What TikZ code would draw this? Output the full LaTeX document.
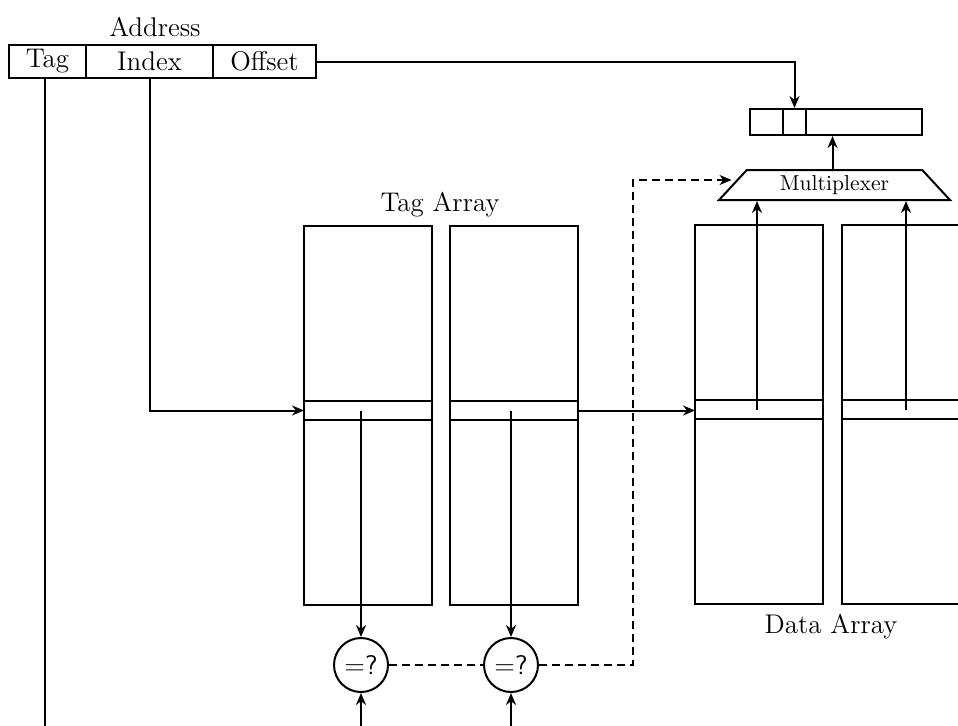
\documentclass[tikz,border=0pt]{standalone}
\usepackage{tikz}
\usetikzlibrary{shapes.geometric, arrows.meta, positioning, calc}

\tikzset{
  field/.style={draw, minimum height=16.5pt, inner sep=0pt, outer sep=0pt,
    font=\fontsize{13.5}{15}\selectfont},
  bank/.style={draw, minimum width=64pt, minimum height=189.5pt, inner sep=0pt},
  slot/.style={draw, minimum width=64pt, minimum height=9.5pt, inner sep=0pt, outer sep=0pt},
  cmp/.style={draw, circle, minimum size=27pt, inner sep=0pt,
    font=\sffamily\fontsize{13.5}{15}\selectfont},
  lbl/.style={font=\fontsize{13.5}{15}\selectfont},
  arr/.style={-{Stealth[length=6pt, width=5pt]}},
  dsh/.style={dash pattern=on 4pt off 2.5pt},
}

\begin{document}
\begin{tikzpicture}[x=0.5pt, y=-0.5pt, line width=1pt]
\useasboundingbox (0,0) rectangle (958,725);
\clip (0,0) rectangle (958,725);

% address split into fields
\node[field, minimum width=38.5pt] (tagf) at (47.5,61.5) {Tag};
\node[field, minimum width=63.5pt, right=0pt of tagf] (indexf) {Index};
\node[field, minimum width=51.5pt, right=0pt of indexf] (offsetf) {Offset};
\node[lbl] at (155,27) {Address};
\coordinate (bottom) at (0,760);

% tag array
\node[lbl] at (440,205) {Tag Array};
\node[bank] (t1) at (368,415.5) {};
\node[bank] (t2) at (514,415.5) {};
\node[slot] (s1) at (368,410.5) {};
\node[slot] (s2) at (514,410.5) {};

% data array
\node[bank] (b1) at (759,414) {};
\node[bank] (b2) at (906,414) {};
\node[slot] (d1) at (759,409.5) {};
\node[slot] (d2) at (906,409.5) {};
\node[lbl] at (831,627) {Data Array};

% comparators
\node[cmp] (c1) at (361,665) {=?};
\node[cmp] (c2) at (511,665) {=?};

% multiplexer and output word
\node[draw, trapezium, trapezium angle=48, trapezium stretches=true,
  minimum width=115.5pt, minimum height=15pt, inner sep=0pt,
  font=\fontsize{10.8}{12}\selectfont] (mux) at (834.5,185) {Multiplexer};
\node[draw, minimum width=86pt, minimum height=13pt, inner sep=0pt] (reg) at (836,122) {};
\node[draw, minimum width=11.5pt, minimum height=13pt, inner sep=0pt] (regsel) at (794.5,122) {};

% connections
\draw ([xshift=-1.5pt]tagf.south) -- ([xshift=-1.5pt]tagf.south |- bottom);
\draw[arr] (indexf.south) |- (s1.west);
\draw[arr] (offsetf.east) -| (regsel.north);
\draw[arr] (c1 |- s1.center) -- (c1.north);
\draw[arr] (c2 |- s2.center) -- (c2.north);
\draw[arr] (c1.south |- bottom) -- (c1.south);
\draw[arr] (c2.south |- bottom) -- (c2.south);
\draw[arr] (s2.east) -- (s2.east -| d1.west);
\draw[arr] ([xshift=-1pt]d1.center) -- ([xshift=-1pt]d1.center |- mux.south);
\draw[arr] (d2.center) -- (d2.center |- mux.south);
\draw[arr] ([xshift=-1pt]mux.north) -- ([xshift=-1pt]mux.north |- reg.south);

% hit signals
\coordinate (bend) at (633,180);
\draw[dsh] (c1.east) -- (c2.west);
\draw[dsh, arr] (c2.east) -| (bend) -- (bend -| mux.west);
\end{tikzpicture}
\end{document}
